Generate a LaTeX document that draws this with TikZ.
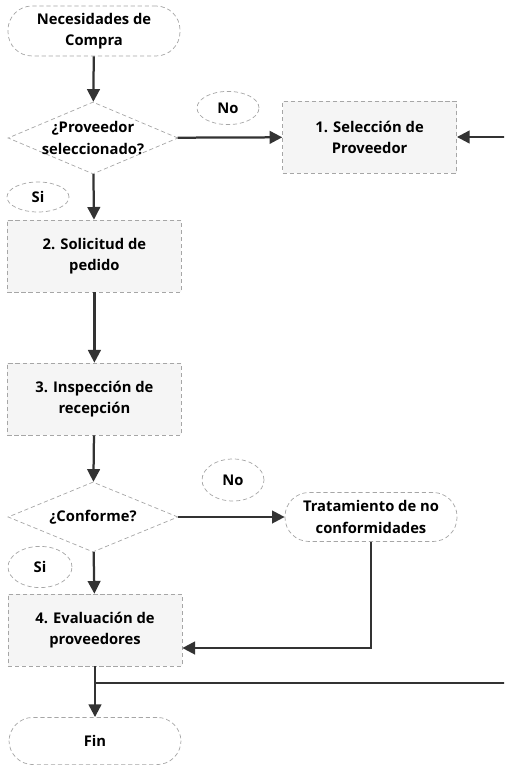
\documentclass[tikz,border=0pt]{standalone}
\usepackage{fontspec}
\setmainfont{Open Sans}
\usetikzlibrary{shapes.geometric,arrows.meta}

\begin{document}
\begin{tikzpicture}[
    font=\bfseries\fontsize{10.5}{15}\selectfont,
    base/.style={draw=gray!70, densely dashed, line width=0.5pt, align=center, inner sep=2pt},
    proceso/.style={base, rectangle, fill=gray!8, minimum width=4.35cm, minimum height=1.8cm},
    terminal/.style={base, rectangle, rounded corners=0.6cm, fill=white, minimum width=4.3cm, minimum height=1.25cm},
    decision/.style={base, diamond, aspect=2.4, inner sep=-9pt, fill=white, minimum width=4.25cm, minimum height=1.8cm},
    etiqueta/.style={base, ellipse, fill=white, minimum width=1.55cm, minimum height=0.85cm},
    flecha/.style={line width=1.6pt, draw=black!80, -{Triangle[length=9pt, width=9pt]}},
    linea/.style={line width=1.6pt, draw=black!80}
]
    \useasboundingbox (0,0) rectangle (12.6,-19.15);
    \clip (0,0) rectangle (12.6,-19.15);

    % columna principal
    \node[terminal] (compra) at (2.35,-0.775) {Necesidades de\\Compra};
    \node[decision] (prov) at (2.325,-3.45) {¿Proveedor\\seleccionado?};
    \node[proceso] (sol) at (2.36,-6.4) {2. Solicitud de\\pedido};
    \node[proceso] (insp) at (2.36,-9.975) {3. Inspección de\\recepción};
    \node[decision, minimum height=1.75cm] (conf) at (2.325,-12.925) {¿Conforme?};
    \node[proceso] (eval) at (2.375,-15.75) {4. Evaluación de\\proveedores};
    \node[terminal, minimum height=1.18cm] (fin) at (2.375,-18.525) {Fin};

    % columna derecha
    \node[proceso] (sel) at (9.24,-3.425) {1. Selección de\\Proveedor};
    \node[terminal, minimum height=1.225cm] (trat) at (9.275,-12.925) {Tratamiento de no\\conformidades};

    % etiquetas si / no
    \node[etiqueta, minimum height=0.83cm] (no1) at (5.7,-2.7) {No};
    \node[etiqueta, minimum height=0.75cm] (si1) at (0.95,-4.925) {Si};
    \node[etiqueta, minimum height=1.05cm] (no2) at (5.825,-12.0) {No};
    \node[etiqueta, minimum width=1.6cm, minimum height=1.03cm] (si2) at (1.0,-14.175) {Si};

    % puntos de paso
    \coordinate (vuelta) at (eval.east |- 0,-16.2);
    \coordinate (rama) at (2.375,-17.075);
    \coordinate (borde) at (12.75,-17.075);

    % flechas
    \draw[flecha] (compra) -- (prov);
    \draw[flecha] (prov) -- (sel);
    \draw[flecha] (prov) -- (sol);
    \draw[flecha] (sol) -- (insp);
    \draw[flecha] (insp) -- (conf);
    \draw[flecha] (conf) -- (trat);
    \draw[flecha] (conf) -- (eval);
    \draw[flecha] (trat.south) |- (vuelta);
    \draw[flecha] (eval) -- (fin);
    \draw[flecha] (rama) -- (borde) |- (sel.east);
\end{tikzpicture}
\end{document}
